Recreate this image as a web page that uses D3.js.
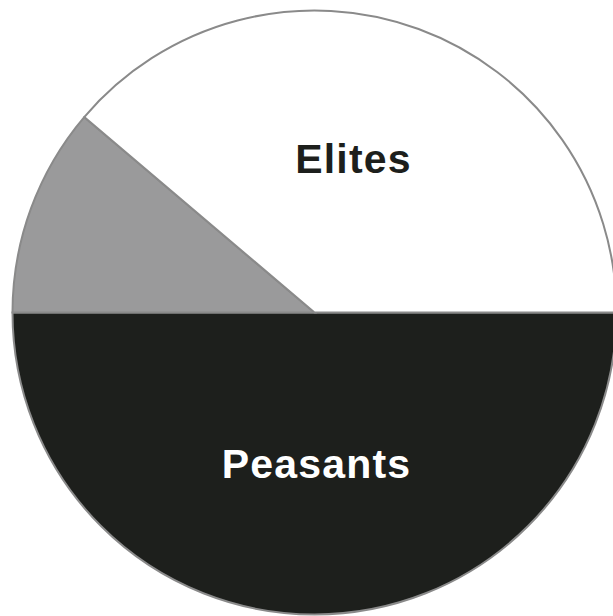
<!DOCTYPE html>
<html>
<head>
<meta charset="utf-8">
<script src="https://cdn.jsdelivr.net/npm/d3@7"></script>
<style>
html,body{margin:0;padding:0;background:#fff;}
svg{display:block;}
</style>
</head>
<body>
<svg id="chart" width="613" height="616"></svg>
<script>
const categories = ["Peasants", "Other", "Elites"];
const values = [50, 11.2, 38.8];
const colors = ["#1d1f1c", "#9a9a9b", "#ffffff"];
const labels = ["Peasants", "", "Elites"];
const labelColors = ["#ffffff", "#000000", "#1d1f1c"];

const data = categories.map((c, i) => ({cat: c, value: values[i], color: colors[i], label: labels[i], lc: labelColors[i]}));

const svg = d3.select("#chart");
const cx = 314.5, cy = 312.5, R = 302;
const g = svg.append("g").attr("transform", `translate(${cx},${cy})`);

const pie = d3.pie().sort(null).value(d => d.value).startAngle(Math.PI / 2).endAngle(Math.PI / 2 + 2 * Math.PI);
const arc = d3.arc().innerRadius(0).outerRadius(R);
const arcs = pie(data);

g.selectAll("path").data(arcs).join("path")
  .attr("d", arc)
  .attr("fill", d => d.data.color)
  .attr("stroke", "#8a8a8a")
  .attr("stroke-width", 2);

const labelOffsets = {"Peasants": [2, 165], "Elites": [39, -140]};
g.selectAll("text").data(arcs.filter(d => d.data.label)).join("text")
  .attr("x", d => labelOffsets[d.data.cat][0])
  .attr("y", d => labelOffsets[d.data.cat][1])
  .attr("text-anchor", "middle")
  .attr("font-family", "Liberation Sans, Arial, Helvetica, sans-serif")
  .attr("font-weight", "bold")
  .attr("font-size", 41)
  .attr("letter-spacing", 1.2)
  .attr("fill", d => d.data.lc)
  .text(d => d.data.label);
</script>
</body>
</html>
